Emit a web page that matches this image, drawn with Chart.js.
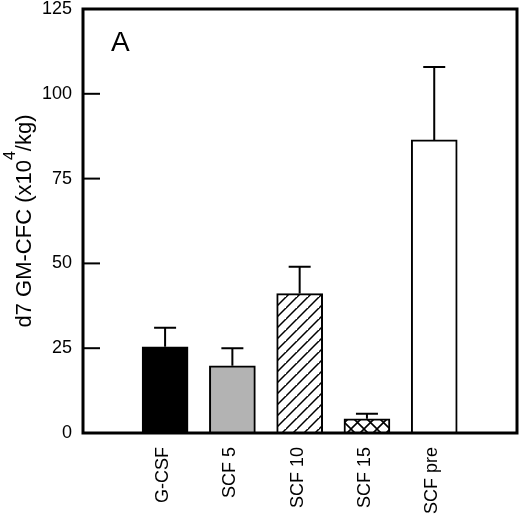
<!DOCTYPE html>
<html>
<head>
<meta charset="utf-8">
<script src="https://cdn.jsdelivr.net/npm/chart.js@4/dist/chart.umd.min.js"></script>
<style>
html,body{margin:0;padding:0;background:#fff;}
canvas{display:block;}
</style>
</head>
<body>
<canvas id="c" width="520" height="519"></canvas>
<script>
const categories = ['G-CSF', 'SCF 5', 'SCF 10', 'SCF 15', 'SCF pre'];
const means = [25.4, 19.8, 41.1, 4.2, 86.4];
const errors = [5.6, 5.2, 7.9, 1.5, 21.5];
const yTicks = [0, 25, 50, 75, 100, 125];
const panelLabel = 'A';
const yTitleMain = 'd7 GM-CFC (x10';
const yTitleSup = '4';
const yTitleEnd = '/kg)';

const FONT = '"Liberation Sans", Arial, Helvetica, sans-serif';

function makeDiag() {
  const s = 11, c = document.createElement('canvas');
  c.width = s; c.height = s;
  const g = c.getContext('2d');
  g.fillStyle = '#fff'; g.fillRect(0, 0, s, s);
  g.strokeStyle = '#000'; g.lineWidth = 1.5;
  g.beginPath();
  g.moveTo(-1, s + 1); g.lineTo(s + 1, -1);
  g.moveTo(-1 - s, s + 1); g.lineTo(1, -1);
  g.moveTo(s - 1, 2 * s + 1); g.lineTo(2 * s + 1, s - 1);
  g.stroke();
  return g.createPattern(c, 'repeat');
}
function makeCross() {
  const s = 13, c = document.createElement('canvas');
  c.width = s; c.height = s;
  const g = c.getContext('2d');
  g.fillStyle = '#fff'; g.fillRect(0, 0, s, s);
  g.strokeStyle = '#000'; g.lineWidth = 1.6;
  g.beginPath();
  g.moveTo(0, s); g.lineTo(s, 0);
  g.moveTo(0, 0); g.lineTo(s, s);
  g.stroke();
  return g.createPattern(c, 'repeat');
}

const fills = ['#000000', '#b3b3b3', makeDiag(), makeCross(), '#ffffff'];

const decor = {
  id: 'decor',
  afterDatasetsDraw(chart) {
    const ctx = chart.ctx, xs = chart.scales.x, ys = chart.scales.y;
    ctx.save();
    ctx.strokeStyle = '#000';
    ctx.lineWidth = 2;
    means.forEach((m, i) => {
      const x = xs.getPixelForValue(i + 1);
      const y0 = ys.getPixelForValue(m);
      const y1 = ys.getPixelForValue(m + errors[i]);
      ctx.beginPath();
      ctx.moveTo(x, y0); ctx.lineTo(x, y1);
      ctx.moveTo(x - 11, y1); ctx.lineTo(x + 11, y1);
      ctx.stroke();
    });
    ctx.restore();
  },
  afterDraw(chart) {
    const ctx = chart.ctx, a = chart.chartArea, ys = chart.scales.y, xs = chart.scales.x;
    ctx.save();
    ctx.strokeStyle = '#000';
    ctx.lineWidth = 3;
    ctx.strokeRect(a.left, a.top, a.right - a.left, a.bottom - a.top);
    ctx.lineWidth = 2;
    yTicks.forEach(v => {
      const y = ys.getPixelForValue(v);
      ctx.beginPath();
      ctx.moveTo(a.left, y); ctx.lineTo(a.left + 17, y);
      ctx.stroke();
    });
    ctx.fillStyle = '#000';
    // category labels, rotated
    ctx.font = '18px ' + FONT;
    ctx.textAlign = 'right';
    ctx.textBaseline = 'middle';
    categories.forEach((c, i) => {
      const x = xs.getPixelForValue(i + 1);
      ctx.save();
      ctx.translate(x - 2, a.bottom + 14);
      ctx.rotate(-Math.PI / 2);
      ctx.fillText(c, 0, 0);
      ctx.restore();
    });
    // panel label
    ctx.font = '28px ' + FONT;
    ctx.textAlign = 'left';
    ctx.textBaseline = 'alphabetic';
    ctx.fillText(panelLabel, a.left + 28, a.top + 42);
    // y title with superscript
    ctx.translate(31, (a.top + a.bottom) / 2);
    ctx.rotate(-Math.PI / 2);
    const f1 = '22px ' + FONT, f2 = '16px ' + FONT;
    ctx.font = f1; const w1 = ctx.measureText(yTitleMain).width; const w3 = ctx.measureText(yTitleEnd).width;
    ctx.font = f2; const w2 = ctx.measureText(yTitleSup).width;
    let x = -(w1 + w2 + w3) / 2;
    ctx.font = f1; ctx.fillText(yTitleMain, x, 0); x += w1;
    ctx.font = f2; ctx.fillText(yTitleSup, x, -16); x += w2;
    ctx.font = f1; ctx.fillText(yTitleEnd, x, 0);
    ctx.restore();
  }
};

new Chart(document.getElementById('c'), {
  type: 'bar',
  data: {
    datasets: [{
      data: means.map((v, i) => ({ x: i + 1, y: v })),
      backgroundColor: fills,
      borderColor: '#000',
      borderWidth: 2,
      barThickness: 46
    }]
  },
  options: {
    responsive: false,
    animation: false,
    devicePixelRatio: 1,
    layout: { padding: { top: 9, right: 3, left: 0, bottom: 0 } },
    plugins: { legend: { display: false }, tooltip: { enabled: false } },
    scales: {
      x: {
        type: 'linear',
        offset: false,
        min: -0.22,
        max: 6.23,
        afterBuildTicks: s => { s.ticks = categories.map((c, i) => ({ value: i + 1 })); },
        afterFit: s => { s.height = 86; s.paddingLeft = 0; s.paddingRight = 0; },
        grid: { display: false, drawTicks: false },
        border: { display: false },
        ticks: { display: false }
      },
      y: {
        min: 0,
        max: 125,
        afterBuildTicks: s => { s.ticks = yTicks.map(v => ({ value: v })); },
        afterFit: s => { s.width = 83; s.paddingTop = 0; s.paddingBottom = 0; },
        grid: { display: false, drawTicks: false },
        border: { display: false },
        ticks: {
          padding: 11,
          color: '#000',
          font: { size: 18, family: FONT }
        }
      }
    }
  },
  plugins: [decor]
});
</script>
</body>
</html>
